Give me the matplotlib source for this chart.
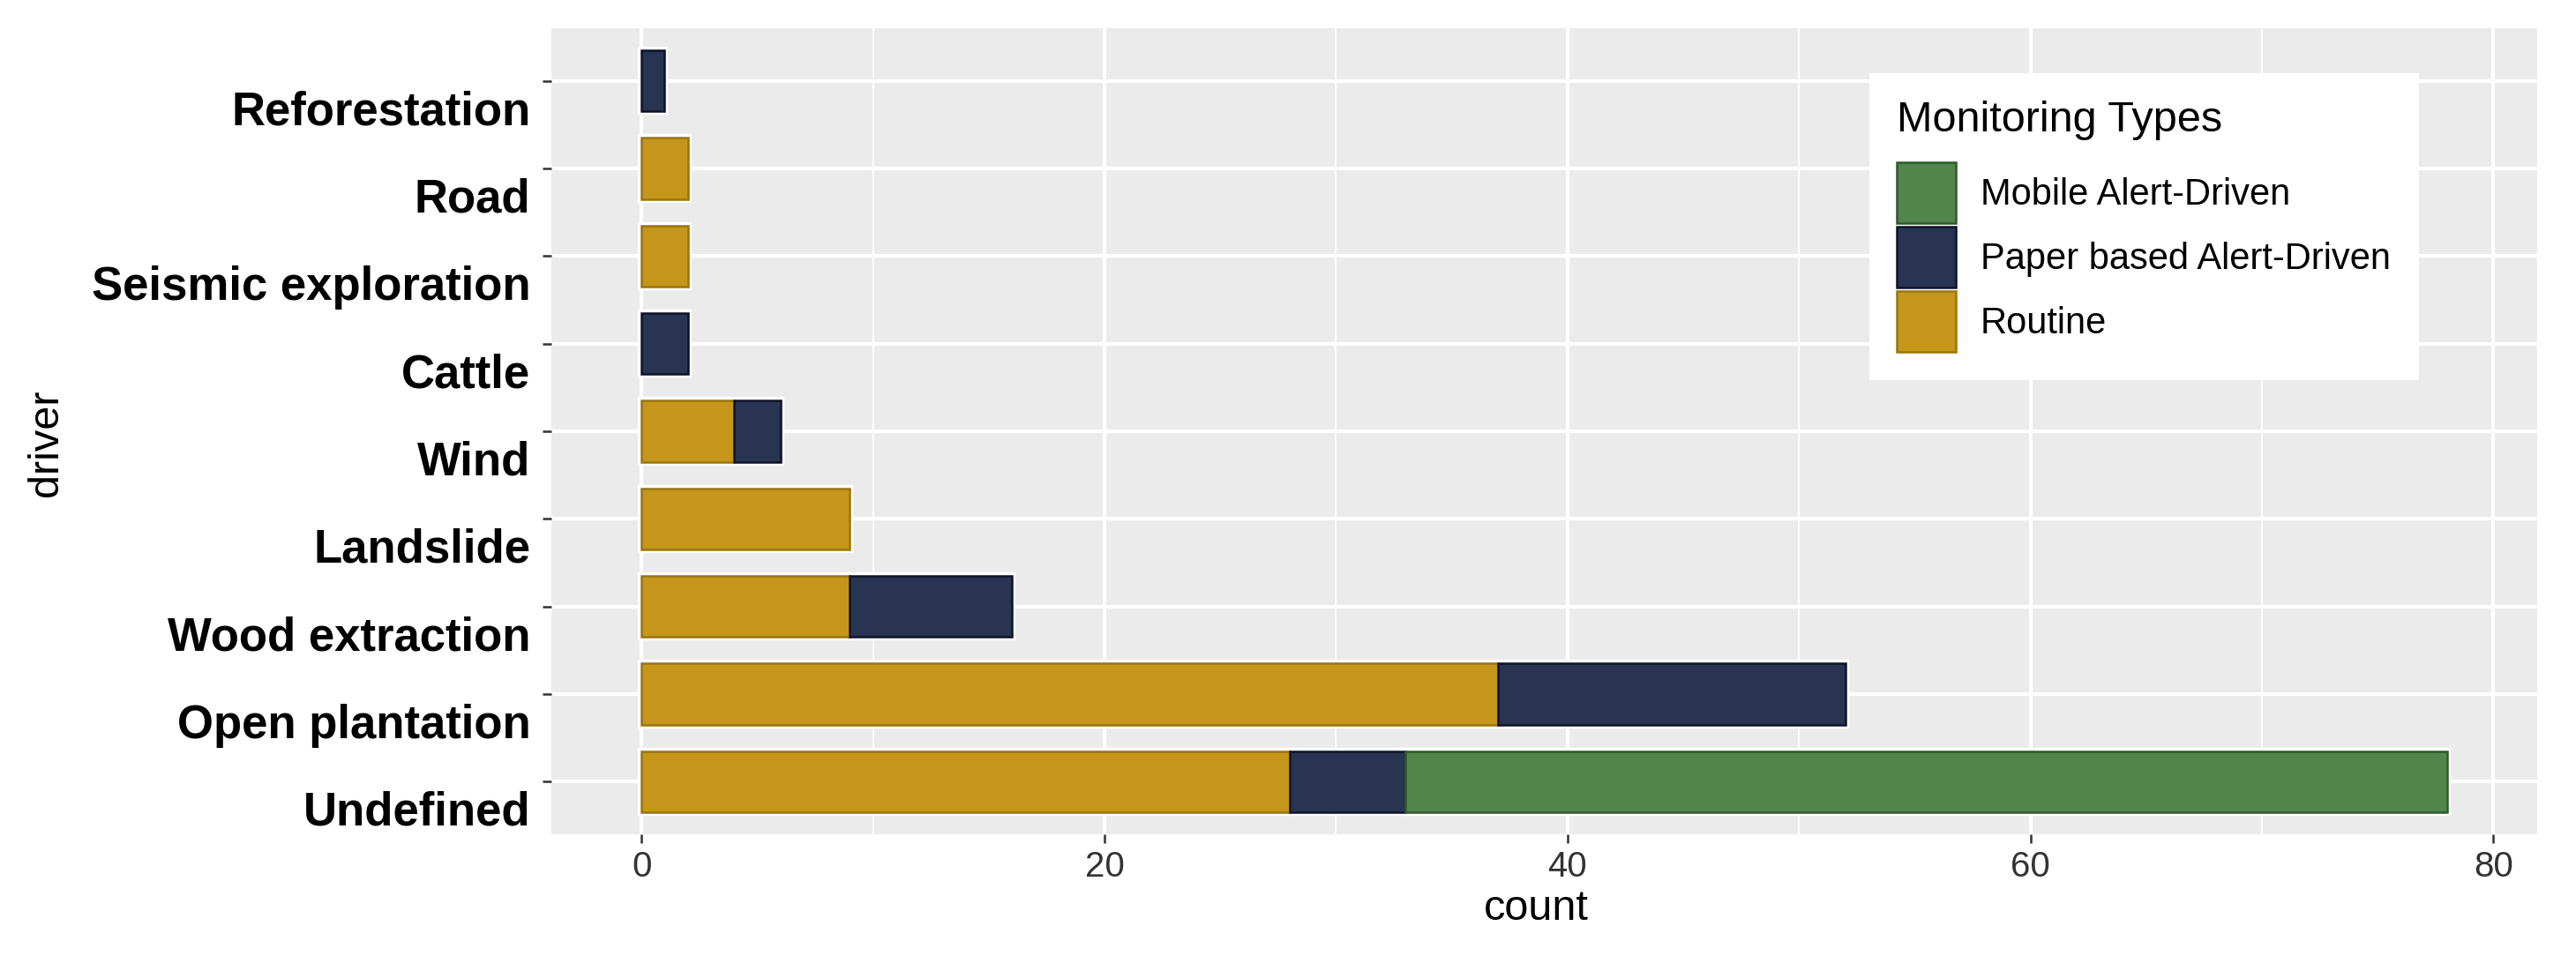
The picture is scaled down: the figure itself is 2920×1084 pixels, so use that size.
import matplotlib
matplotlib.use("Agg")
import matplotlib.pyplot as plt
import matplotlib.transforms as mtransforms
from matplotlib.patches import Patch
import numpy as np

plt.rcParams['font.family'] = ['Liberation Sans', 'DejaVu Sans']

# data, bottom to top
drivers = ['Undefined', 'Open plantation', 'Wood extraction', 'Landslide', 'Wind',
           'Cattle', 'Seismic exploration', 'Road', 'Reforestation']
routine = [28, 37, 9, 9, 4, 0, 2, 2, 0]
paper = [5, 15, 7, 0, 2, 2, 0, 0, 1]
mobile = [45, 0, 0, 0, 0, 0, 0, 0, 0]

types = ['Mobile Alert-Driven', 'Paper based Alert-Driven', 'Routine']
fills = {'Mobile Alert-Driven': '#52854C', 'Paper based Alert-Driven': '#293352', 'Routine': '#C4961A'}
edges = {'Mobile Alert-Driven': '#2E5A2A', 'Paper based Alert-Driven': '#0E1428', 'Routine': '#9C7410'}

fig = plt.figure(figsize=(14.6, 5.42), dpi=200)
ax = fig.add_axes([0.214, 0.1273, 0.771, 0.8432])
ax.set_facecolor('#EBEBEB')
for s in ax.spines.values():
    s.set_visible(False)

y = np.arange(1, len(drivers) + 1)
stack = [('Routine', routine), ('Paper based Alert-Driven', paper), ('Mobile Alert-Driven', mobile)]
left = np.zeros(len(drivers))
segs = []
for name, vals in stack:
    for i, v in enumerate(vals):
        if v > 0:
            segs.append((y[i], left[i], v, name))
    left = left + np.array(vals)

# white halo first, then the coloured bars
for yy, l, w, name in segs:
    ax.barh(yy, w, left=l, height=0.7, color='white', edgecolor='white', linewidth=3, zorder=2)
for yy, l, w, name in segs:
    ax.barh(yy, w, left=l, height=0.7, color=fills[name], edgecolor=edges[name], linewidth=0.9, zorder=3)

ax.set_xlim(-3.9, 81.9)
ax.set_ylim(0.4, len(drivers) + 0.6)
ax.set_xticks([0, 20, 40, 60, 80])
ax.set_xticks([10, 30, 50, 70], minor=True)
ax.set_yticks(y)
ax.set_yticklabels(drivers, fontsize=19, fontweight='bold', color='black')
ax.grid(which='major', color='white', linewidth=1.5, zorder=0)
ax.grid(which='minor', axis='x', color='white', linewidth=0.7, zorder=0)
ax.set_axisbelow(True)
ax.tick_params(axis='x', which='major', labelsize=14.5, labelcolor='#333333', color='#333333',
               length=3.5, width=0.9, pad=3)
ax.tick_params(axis='x', which='minor', length=0)
ax.tick_params(axis='y', color='#333333', length=3.5, width=0.9, pad=5)

# labels sit a bit below their ticks
off = mtransforms.ScaledTranslation(0, -30 / 200, fig.dpi_scale_trans)
for lbl in ax.get_yticklabels():
    lbl.set_transform(lbl.get_transform() + off)

ax.set_xlabel('count', fontsize=17.5, color='black')
ax.xaxis.label.set_va('center')
ax.xaxis.set_label_coords(0.496, -0.092)
ax.set_ylabel('driver', fontsize=17.5, color='black')
ax.yaxis.label.set_va('center')
ax.yaxis.set_label_coords(-0.2544, 0.485)

handles = [Patch(facecolor=fills[t], edgecolor=edges[t], linewidth=0.9) for t in types]
leg = ax.legend(handles, types, title='Monitoring Types', loc='upper left',
                bbox_to_anchor=(0.726, 0.9225), bbox_transform=fig.transFigure,
                borderaxespad=0, fontsize=15, title_fontsize=17.5, frameon=True,
                fancybox=False, handlelength=1.6, handleheight=2.17, labelspacing=0.1,
                handletextpad=0.67, borderpad=0.72)
leg.get_frame().set_facecolor('white')
leg.get_frame().set_edgecolor('white')
leg.get_frame().set_alpha(1)
leg._legend_box.align = 'left'
leg._legend_box.sep = 9

fig.savefig('out.png', dpi=200, facecolor='white')
